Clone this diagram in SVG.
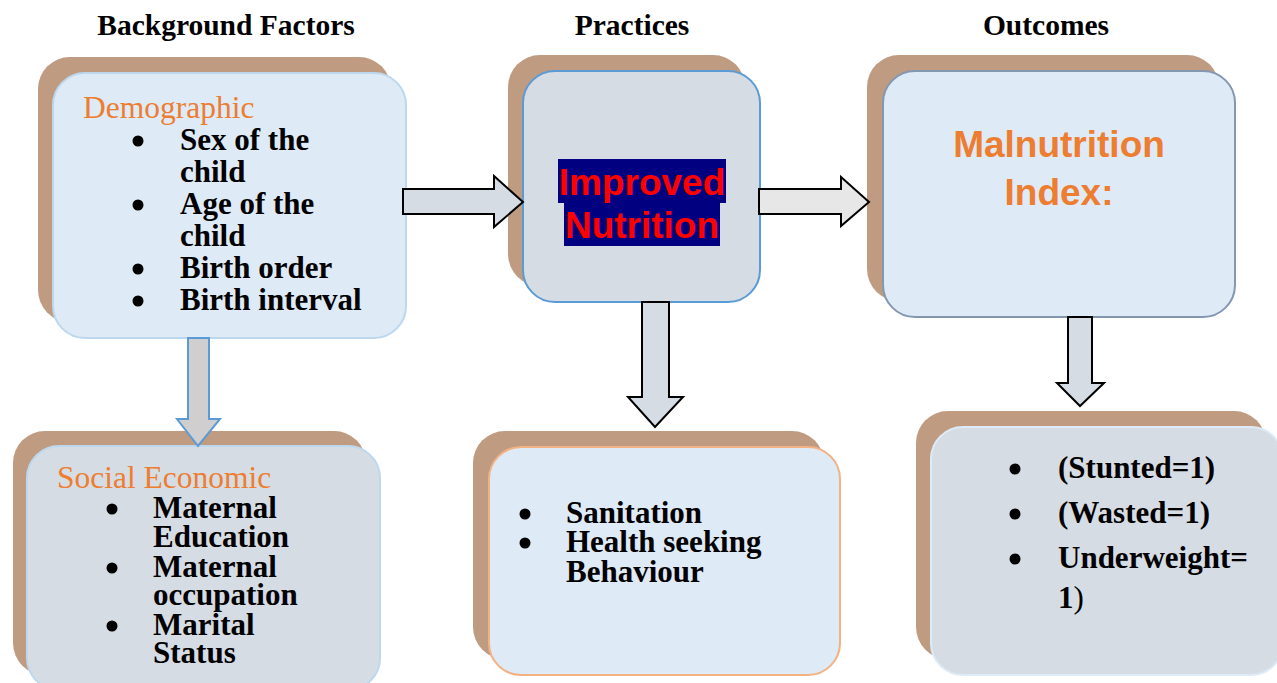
<svg xmlns="http://www.w3.org/2000/svg" width="1277" height="683" viewBox="0 0 1277 683">
<style>
.title{font-family:"Liberation Serif",serif;font-weight:bold;font-size:29.5px;fill:#000;text-anchor:middle}
.head{font-family:"Liberation Serif",serif;font-size:31.5px;fill:#ed7d31}
.item{font-family:"Liberation Serif",serif;font-weight:bold;font-size:31px;fill:#000}
.big{font-family:"Liberation Sans",Arial,sans-serif;font-weight:bold;font-size:37px;text-anchor:middle}
.shadow{fill:#bf9b82}
.arrow{stroke:#000;stroke-width:2;stroke-linejoin:miter}
</style>
<rect width="1277" height="683" fill="#fff"/>
<g id="titles">
<text class="title" x="226" y="35">Background Factors</text>
<text class="title" x="632" y="35">Practices</text>
<text class="title" x="1046" y="35">Outcomes</text>
</g>
<g id="demographic">
<rect class="shadow" x="38" y="57" width="353" height="265" rx="32"/>
<rect x="53" y="73" width="353" height="265" rx="32" fill="#deeaf6" stroke="#bdd7ee" stroke-width="2"/>
<text class="head" x="83" y="118">Demographic</text>
<g fill="#000"><circle cx="138" cy="141" r="5.5"/><circle cx="138" cy="205" r="5.5"/><circle cx="138" cy="269" r="5.5"/><circle cx="138" cy="301" r="5.5"/></g>
<text class="item" x="180" y="150">Sex of the</text>
<text class="item" x="180" y="182">child</text>
<text class="item" x="180" y="214">Age of the</text>
<text class="item" x="180" y="246">child</text>
<text class="item" x="180" y="278">Birth order</text>
<text class="item" x="180" y="310">Birth interval</text>
</g>
<g id="improved-nutrition">
<rect class="shadow" x="508" y="55" width="237" height="231" rx="32"/>
<rect x="523" y="71" width="237" height="231" rx="32" fill="#d6dce4" stroke="#5b9bd5" stroke-width="2"/>
<rect x="558" y="159" width="168" height="44" fill="#000080"/>
<rect x="564" y="203" width="156" height="43" fill="#000080"/>
<text class="big" x="642" y="195" fill="#ff0000">Improved</text>
<text class="big" x="642" y="238" fill="#ff0000">Nutrition</text>
</g>
<g id="malnutrition-index">
<rect class="shadow" x="867" y="55" width="352" height="246" rx="32"/>
<rect x="883" y="71" width="352" height="246" rx="32" fill="#deeaf6" stroke="#8497b0" stroke-width="2"/>
<text class="big" x="1059" y="157" fill="#ed7d31">Malnutrition</text>
<text class="big" x="1059" y="205" fill="#ed7d31">Index:</text>
</g>
<g id="social-economic">
<rect class="shadow" x="13" y="431" width="353" height="244" rx="32"/>
<rect x="27" y="446" width="353" height="244" rx="32" fill="#d6dce4" stroke="#bdd7ee" stroke-width="2"/>
<text class="head" x="57" y="488">Social Economic</text>
<g fill="#000"><circle cx="112" cy="509" r="5.5"/><circle cx="112" cy="568" r="5.5"/><circle cx="112" cy="626" r="5.5"/></g>
<text class="item" x="153" y="518">Maternal</text>
<text class="item" x="153" y="547">Education</text>
<text class="item" x="153" y="577">Maternal</text>
<text class="item" x="153" y="605">occupation</text>
<text class="item" x="153" y="635">Marital</text>
<text class="item" x="153" y="663">Status</text>
</g>
<g id="sanitation">
<rect class="shadow" x="473" y="431" width="351" height="228" rx="32"/>
<rect x="489" y="447" width="351" height="228" rx="32" fill="#deeaf6" stroke="#f4b183" stroke-width="2"/>
<g fill="#000"><circle cx="525" cy="514" r="5.5"/><circle cx="525" cy="543" r="5.5"/></g>
<text class="item" x="566" y="523">Sanitation</text>
<text class="item" x="566" y="552">Health seeking</text>
<text class="item" x="566" y="582">Behaviour</text>
</g>
<g id="indicators">
<rect class="shadow" x="916" y="411" width="350" height="248" rx="32"/>
<rect x="931" y="427" width="352" height="248" rx="32" fill="#d6dce4" stroke="#deebf7" stroke-width="2"/>
<g fill="#000"><circle cx="1015" cy="469" r="5.5"/><circle cx="1015" cy="514" r="5.5"/><circle cx="1015" cy="559" r="5.5"/></g>
<text class="item" x="1058" y="478">(Stunted=1)</text>
<text class="item" x="1058" y="523">(Wasted=1)</text>
<text class="item" x="1058" y="568">Underweight=</text>
<text class="item" x="1058" y="608">1<tspan font-weight="normal">)</tspan></text>
</g>
<g id="connectors">
<polygon class="arrow" fill="#d6dce4" points="403,189 494,189 494,176 523,202 494,227 494,214 403,214"/>
<polygon class="arrow" fill="#e7e7e7" points="759,189 841,189 841,177 869,202 841,226 841,214 759,214"/>
<polygon fill="#d0cece" stroke="#5b9bd5" stroke-width="2" points="188,338 209,338 209,419 220,419 198,446 177,419 188,419"/>
<polygon class="arrow" fill="#d6dce4" points="642,302 669,302 669,397 683,397 655,427 628,397 642,397"/>
<polygon class="arrow" fill="#d6dce4" points="1068,317 1092,317 1092,383 1104,383 1080,406 1057,383 1068,383"/>
</g>
</svg>
